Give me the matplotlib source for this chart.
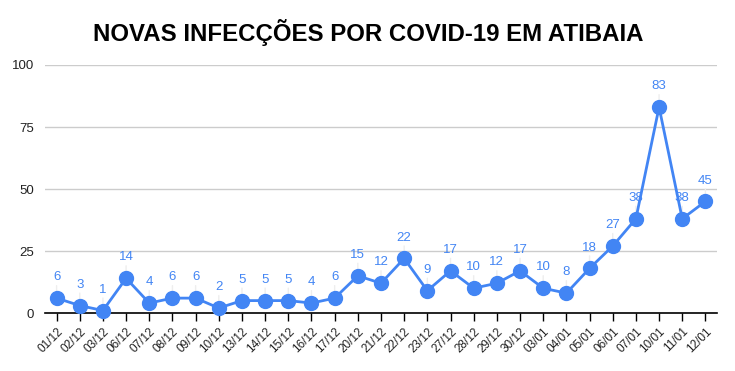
import matplotlib
matplotlib.use("Agg")
import matplotlib.pyplot as plt

dates = ["01/12", "02/12", "03/12", "06/12", "07/12", "08/12", "09/12", "10/12",
         "13/12", "14/12", "15/12", "16/12", "17/12", "20/12", "21/12", "22/12",
         "23/12", "27/12", "28/12", "29/12", "30/12", "03/01", "04/01", "05/01",
         "06/01", "07/01", "10/01", "11/01", "12/01"]
cases = [6, 3, 1, 14, 4, 6, 6, 2, 5, 5, 5, 4, 6, 15, 12, 22, 9, 17, 10, 12, 17,
         10, 8, 18, 27, 38, 83, 38, 45]
yticks = [0, 25, 50, 75, 100]

plt.rcParams['font.family'] = ['Liberation Sans', 'DejaVu Sans']
blue = "#4285F4"

fig = plt.figure(figsize=(7.35, 3.71), dpi=100)
ax = fig.add_axes([45/735, 1-313/371, (717-45)/735, (313-65)/371])

x = list(range(len(dates)))
ax.plot(x, cases, color=blue, lw=2, marker="o", ms=10, zorder=3, clip_on=False)
for xi, v in zip(x, cases):
    ax.annotate(str(v), (xi, v), xytext=(0, 15), textcoords="offset points",
                ha="center", va="center", color=blue, fontsize=9.5, zorder=4)
    ax.annotate("", (xi, v), xytext=(0, 9), textcoords="offset points",
                arrowprops=dict(arrowstyle="-", color="#eeeeee", lw=1,
                                shrinkA=0, shrinkB=0), zorder=1)

ax.set_xlim(-0.5, len(dates) - 0.5)
ax.set_ylim(0, 100)
ax.set_yticks(yticks)
ax.set_yticklabels([str(t) for t in yticks], fontsize=9.5, color="#222222")
ax.set_xticks(x)
ax.set_xticklabels(dates, rotation=45, ha="right", rotation_mode="anchor",
                   fontsize=8.5, color="#222222")
ax.tick_params(axis="y", length=0, pad=8)
ax.tick_params(axis="x", length=6, width=1, color="black", direction="out", pad=3)
ax.grid(axis="y", color="#cccccc", lw=1)
ax.set_axisbelow(True)
for s in ["top", "right", "left"]:
    ax.spines[s].set_visible(False)
ax.spines["bottom"].set_color("black")
ax.spines["bottom"].set_linewidth(1.2)
ax.spines["bottom"].set_zorder(2)

fig.text(368/735, 1-33/371, "NOVAS INFECÇÕES POR COVID-19 EM ATIBAIA",
         ha="center", va="center", fontsize=17.3, fontweight="bold", color="black")

fig.savefig("out.png", dpi=100)
